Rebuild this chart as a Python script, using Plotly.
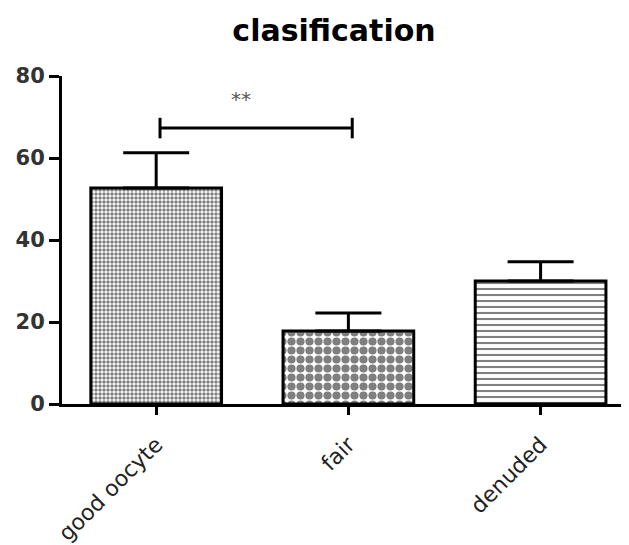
import plotly.graph_objects as go

categories = ["good oocyte", "fair", "denuded"]
means = [52.7, 17.8, 30.0]
sem = [8.6, 4.4, 4.7]
patterns = [".", ".", "-"]
pattern_sizes = [4, 9, 6]
pattern_solidity = [0.6, 0.65, 0.35]
y_ticks = [0, 20, 40, 60, 80]
sig_from, sig_to = 0, 1
sig_y = 67.3
sig_label = "**"
title_text = "clasification"

FONT = "DejaVu Sans, Verdana, sans-serif"

fig = go.Figure()
fig.add_trace(go.Bar(
    x=list(range(len(categories))),
    y=means,
    width=0.68,
    marker=dict(
        color="white",
        line=dict(color="black", width=3),
        pattern=dict(shape=patterns, size=pattern_sizes, solidity=pattern_solidity,
                     fgcolor="black", bgcolor="white", fillmode="overlay"),
    ),
    error_y=dict(type="data", symmetric=False, array=sem, arrayminus=[0] * len(sem),
                 color="black", thickness=3, width=33),
    showlegend=False,
))

# significance bracket
bx0, bx1 = sig_from + 0.02, sig_to + 0.02
fig.add_shape(type="line", x0=bx0, x1=bx1, y0=sig_y, y1=sig_y,
              xref="x", yref="y", line=dict(color="black", width=3))
for xv in (bx0, bx1):
    fig.add_shape(type="line", x0=xv, x1=xv, y0=sig_y - 2.5, y1=sig_y + 2.5,
                  xref="x", yref="y", line=dict(color="black", width=3))
fig.add_annotation(x=(sig_from + sig_to) / 2 - 0.06, y=sig_y + 7, text=sig_label,
                   showarrow=False, xref="x", yref="y",
                   font=dict(family=FONT, size=20, color="#555"))

fig.update_layout(
    width=621, height=537,
    margin=dict(l=54, r=0, t=68, b=141),
    paper_bgcolor="white", plot_bgcolor="white",
    title=dict(text="<b>" + title_text + "</b>", x=0.525, xanchor="center", y=0.958, yanchor="middle",
               font=dict(family=FONT, size=30, color="black")),
    xaxis=dict(
        range=[-0.49, 2.46],
        tickmode="array", tickvals=list(range(len(categories))), ticktext=categories,
        tickangle=-45, ticks="outside", ticklen=8, tickwidth=3, tickcolor="black",
        ticklabelstandoff=8,
        showline=True, linecolor="black", linewidth=3, showgrid=False, zeroline=False,
        tickfont=dict(family=FONT, size=22, color="#222"),
    ),
    yaxis=dict(
        range=[0, 80], tickmode="array", tickvals=y_ticks,
        ticks="outside", ticklen=10, tickwidth=3, tickcolor="black",
        showline=True, linecolor="black", linewidth=3, showgrid=False, zeroline=False,
        tickfont=dict(family=FONT, size=21, color="#333", weight="bold"),
    ),
)

fig.write_html("out.html")
